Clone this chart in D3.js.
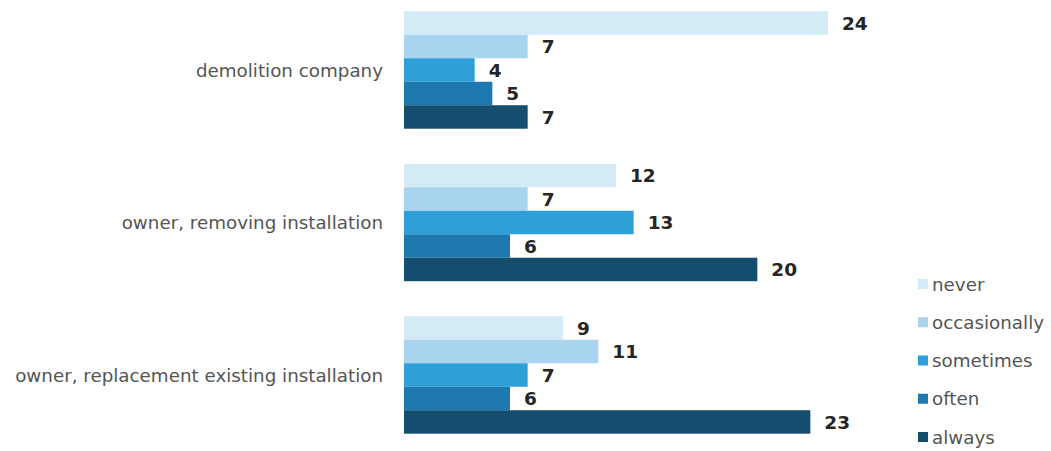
<!DOCTYPE html>
<html>
<head>
<meta charset="utf-8">
<script src="https://cdn.jsdelivr.net/npm/d3@7"></script>
<style>
  body { margin: 0; background: #fff; }
  text { font-family: "DejaVu Sans", Verdana, sans-serif; }
</style>
</head>
<body>
<svg id="chart" width="1051" height="451"></svg>
<script>
const categories = ["demolition company", "owner, removing installation", "owner, replacement existing installation"];
const seriesNames = ["never", "occasionally", "sometimes", "often", "always"];
const never = [24, 12, 9];
const occasionally = [7, 7, 11];
const sometimes = [4, 13, 7];
const often = [5, 6, 6];
const always = [7, 20, 23];
const colors = ["#d3eaf7", "#a8d4ef", "#2f9fda", "#1e79b1", "#144e6f"];

const seriesValues = [never, occasionally, sometimes, often, always];
const svg = d3.select("#chart");

const x = d3.scaleLinear().domain([0, 24]).range([404, 828]);

const y0 = d3.scaleBand()
	.domain(categories)
	.range([-7, 452])
	.paddingInner(0.23)
	.paddingOuter(0.12);

const y1 = d3.scaleBand()
	.domain(seriesNames)
	.range([0, y0.bandwidth()]);

const groups = svg.selectAll("g.group")
	.data(categories)
	.enter()
	.append("g")
	.attr("class", "group")
	.attr("transform", (d) => `translate(0,${y0(d)})`);

groups.each(function (cat, ci) {
	const g = d3.select(this);
	const rows = seriesNames.map((s, si) => ({ s, si, v: seriesValues[si][ci] }));

	g.selectAll("rect")
		.data(rows)
		.enter()
		.append("rect")
		.attr("x", x(0))
		.attr("y", (d) => y1(d.s))
		.attr("width", (d) => x(d.v) - x(0))
		.attr("height", y1.bandwidth())
		.attr("fill", (d) => colors[d.si]);

	g.selectAll("text.value")
		.data(rows)
		.enter()
		.append("text")
		.attr("class", "value")
		.attr("x", (d) => x(d.v) + 14)
		.attr("y", (d) => y1(d.s) + y1.bandwidth() / 2)
		.attr("dy", "0.36em")
		.attr("font-size", "18.5px")
		.attr("font-weight", "bold")
		.attr("fill", "#252525")
		.text((d) => d.v);

	// category label, centered on the middle bar
	g.append("text")
		.attr("x", 383)
		.attr("y", y0.bandwidth() / 2)
		.attr("dy", "0.36em")
		.attr("text-anchor", "end")
		.attr("font-size", "18.3px")
		.attr("fill", "#555")
		.text(cat);
});

// legend
const legendY = d3.scalePoint().domain(seriesNames).range([284, 437]);

const legend = svg.append("g")
	.selectAll("g")
	.data(seriesNames)
	.enter()
	.append("g")
	.attr("transform", (d) => `translate(918,${legendY(d)})`);

legend.append("rect")
	.attr("x", 0)
	.attr("y", -5)
	.attr("width", 10)
	.attr("height", 10)
	.attr("fill", (d, i) => colors[i]);

legend.append("text")
	.attr("x", 14)
	.attr("y", 0)
	.attr("dy", "0.36em")
	.attr("font-size", "18.3px")
	.attr("fill", "#555")
	.text((d) => d);
</script>
</body>
</html>
